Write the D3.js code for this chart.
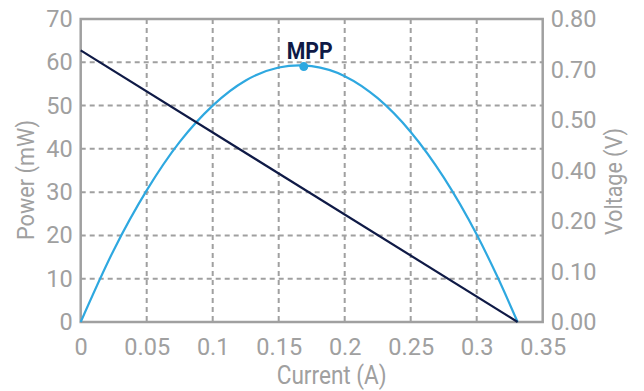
<!DOCTYPE html>
<html><head><meta charset="utf-8">
<script src="https://cdn.jsdelivr.net/npm/d3@7/dist/d3.min.js"></script>
<style>
html,body{margin:0;padding:0;background:#fff;}
text{font-family:Roboto,sans-serif;}
</style>
</head><body>
<svg id="c" width="644" height="391"></svg>
<script>
// Data
const powerCurrent = [0, 0.025, 0.05, 0.075, 0.1, 0.125, 0.15, 0.1655, 0.175, 0.2, 0.225, 0.25, 0.275, 0.3, 0.315, 0.331];
const powerValues  = [0, 16.6, 30.4, 41.6, 50.0, 55.8, 58.8, 59.3, 59.1, 56.8, 51.7, 43.9, 33.4, 20.2, 10.9, 0];
const voltageCurrent = [0, 0.331];
const voltageValues  = [0.717, 0];
const mpp = {current: 0.169, power: 59.0, label: "MPP"};
const xTicks = [0, 0.05, 0.1, 0.15, 0.2, 0.25, 0.3, 0.35];
const xTickLabels = ["0", "0.05", "0.1", "0.15", "0.2", "0.25", "0.3", "0.35"];
const powerTicks = [0, 10, 20, 30, 40, 50, 60, 70];
const voltageTicks = [0, 0.8/6, 1.6/6, 0.4, 3.2/6, 4/6, 0.8];
const voltageTickLabels = ["0.00", "0.10", "0.20", "0.40", "0.50", "0.70", "0.80"];

const L = 80.7, R = 542.7, T = 19, B = 322;
const gray = "#a0a0a0", navy = "#0f1a46", blue = "#2ea8e0";
const svg = d3.select("#c");
const x = d3.scaleLinear().domain([0, 0.35]).range([L, R]);
const yP = d3.scaleLinear().domain([0, 70]).range([B, T]);
const yV = d3.scaleLinear().domain([0, 0.8]).range([B, T]);

// grid
const g = svg.append("g");
g.selectAll("line.vg").data(xTicks.slice(1, -1)).join("line")
  .attr("x1", d => x(d)).attr("x2", d => x(d)).attr("y1", T).attr("y2", B)
  .attr("stroke", gray).attr("stroke-width", 2).attr("stroke-dasharray", "5,4");
g.selectAll("line.hg").data(powerTicks.slice(1, -1)).join("line")
  .attr("x1", L).attr("x2", R).attr("y1", d => yP(d)).attr("y2", d => yP(d))
  .attr("stroke", gray).attr("stroke-width", 2).attr("stroke-dasharray", "5,4");

// frame
svg.append("rect").attr("x", L).attr("y", T).attr("width", R - L).attr("height", B - T)
  .attr("fill", "none").attr("stroke", gray).attr("stroke-width", 2.5);

// axes
const fs = 23.5;
const ax = svg.append("g").attr("transform", `translate(0,${B})`)
  .call(d3.axisBottom(x).tickValues(xTicks).tickSize(0).tickPadding(16).tickFormat((d, i) => xTickLabels[i]));
ax.select(".domain").remove();
const ay = svg.append("g").attr("transform", `translate(${L},0)`)
  .call(d3.axisLeft(yP).tickValues(powerTicks).tickSize(0).tickPadding(8));
ay.select(".domain").remove();
const ar = svg.append("g").attr("transform", `translate(${R},0)`)
  .call(d3.axisRight(yV).tickValues(voltageTicks).tickSize(0).tickPadding(8).tickFormat((d, i) => voltageTickLabels[i]));
ar.select(".domain").remove();
svg.selectAll(".tick text").attr("fill", gray).attr("font-size", fs)
  .attr("font-family", "Roboto, sans-serif");

// titles
svg.append("text").attr("x", 331.7).attr("y", 384).attr("text-anchor", "middle")
  .attr("fill", gray).attr("font-size", 25).attr("textLength", 110).attr("lengthAdjust", "spacingAndGlyphs")
  .text("Current (A)");
svg.append("text").attr("transform", "translate(34,180) rotate(-90)").attr("text-anchor", "middle")
  .attr("fill", gray).attr("font-size", 23).attr("textLength", 120).attr("lengthAdjust", "spacingAndGlyphs")
  .text("Power (mW)");
svg.append("text").attr("transform", "translate(621.5,181.5) rotate(-90)").attr("text-anchor", "middle")
  .attr("fill", gray).attr("font-size", 23).attr("textLength", 107).attr("lengthAdjust", "spacingAndGlyphs")
  .text("Voltage (V)");

// lines
const pdata = powerCurrent.map((c, i) => [c, powerValues[i]]);
svg.append("path").datum(pdata)
  .attr("d", d3.line().x(d => x(d[0])).y(d => yP(d[1])).curve(d3.curveMonotoneX))
  .attr("fill", "none").attr("stroke", blue).attr("stroke-width", 2.2);
const vdata = voltageCurrent.map((c, i) => [c, voltageValues[i]]);
svg.append("path").datum(vdata)
  .attr("d", d3.line().x(d => x(d[0])).y(d => yV(d[1])))
  .attr("fill", "none").attr("stroke", navy).attr("stroke-width", 2.2);

// MPP
svg.append("circle").attr("cx", x(mpp.current)).attr("cy", yP(mpp.power)).attr("r", 4.5).attr("fill", blue);
svg.append("text").attr("x", x(mpp.current) + 6).attr("y", yP(mpp.power) - 8).attr("text-anchor", "middle")
  .attr("fill", navy).attr("font-size", 23).attr("font-weight", "bold").attr("textLength", 46).attr("lengthAdjust", "spacingAndGlyphs")
  .text(mpp.label);
</script>
</body></html>
